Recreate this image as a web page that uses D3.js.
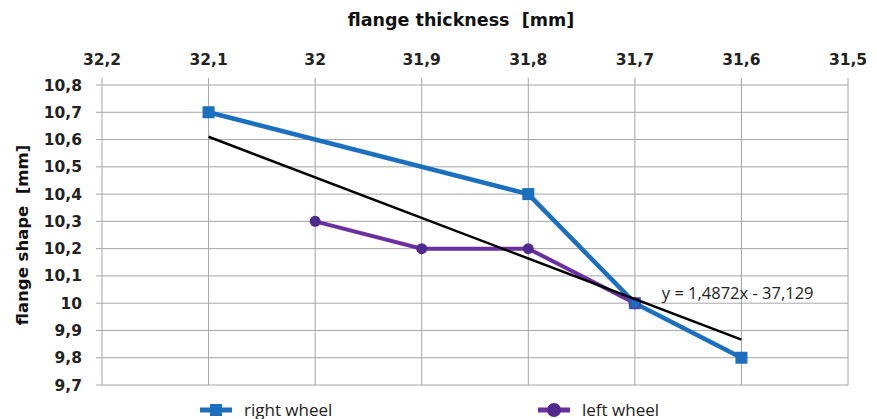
<!DOCTYPE html>
<html>
<head>
<meta charset="utf-8">
<script src="https://cdn.jsdelivr.net/npm/d3@7"></script>
<style>
  body { margin: 0; background: #fff; }
  svg { display: block; }
</style>
</head>
<body>
<div id="chart"></div>
<script>
// data
const xTicks = [32.2, 32.1, 32, 31.9, 31.8, 31.7, 31.6, 31.5];
const yTicks = [9.7, 9.8, 9.9, 10, 10.1, 10.2, 10.3, 10.4, 10.5, 10.6, 10.7, 10.8];
const rightX = [32.1, 31.8, 31.7, 31.6];
const rightY = [10.7, 10.4, 10.0, 9.8];
const leftX = [32, 31.9, 31.8, 31.7];
const leftY = [10.3, 10.2, 10.2, 10.0];
const trendSlope = 1.4872;
const trendIntercept = -37.129;
const trendX = [32.1, 31.6];

const W = 877, H = 419;
const margin = { top: 85, right: 29, bottom: 34, left: 102 };
const width = W - margin.left - margin.right,
      height = H - margin.top - margin.bottom;

const svg = d3.select("#chart").append("svg")
    .attr("width", W)
    .attr("height", H);

const g = svg.append("g")
    .attr("transform", `translate(${margin.left},${margin.top})`);

const x = d3.scaleLinear().domain([32.2, 31.5]).range([0, width]);
const y = d3.scaleLinear().domain([9.7, 10.8]).range([height, 0]);
const fmt = d => String(+d.toFixed(1)).replace(".", ",");
const boldFont = "DejaVu Sans, sans-serif";

// grid: horizontal lines reach a bit left, vertical lines poke above the top
g.append("g")
    .selectAll("line")
    .data(yTicks)
    .enter().append("line")
    .attr("x1", -6).attr("x2", width)
    .attr("y1", d => y(d)).attr("y2", d => y(d))
    .attr("stroke", "#a6a6a6").attr("stroke-width", 1);

g.append("g")
    .selectAll("line")
    .data(xTicks)
    .enter().append("line")
    .attr("x1", d => x(d)).attr("x2", d => x(d))
    .attr("y1", -7).attr("y2", height)
    .attr("stroke", "#a6a6a6").attr("stroke-width", 1);

// tick labels
g.append("g")
    .selectAll("text")
    .data(xTicks)
    .enter().append("text")
    .attr("x", d => x(d))
    .attr("y", -20)
    .attr("text-anchor", "middle")
    .attr("font-family", boldFont)
    .attr("font-weight", "bold")
    .attr("font-size", 15.5)
    .attr("fill", "#222")
    .text(fmt);

g.append("g")
    .selectAll("text")
    .data(yTicks)
    .enter().append("text")
    .attr("x", -20)
    .attr("y", d => y(d))
    .attr("dy", "0.36em")
    .attr("text-anchor", "end")
    .attr("font-family", boldFont)
    .attr("font-weight", "bold")
    .attr("font-size", 15.5)
    .attr("fill", "#222")
    .text(fmt);

// axis titles
svg.append("text")
    .attr("x", 461).attr("y", 26)
    .attr("text-anchor", "middle")
    .attr("font-family", boldFont)
    .attr("font-weight", "bold")
    .attr("font-size", 17.5)
    .attr("fill", "#111")
    .attr("xml:space", "preserve")
    .text("flange thickness  [mm]");

svg.append("text")
    .attr("transform", "translate(28,235) rotate(-90)")
    .attr("text-anchor", "middle")
    .attr("font-family", boldFont)
    .attr("font-weight", "bold")
    .attr("font-size", 16.5)
    .attr("fill", "#111")
    .attr("xml:space", "preserve")
    .text("flange shape  [mm]");

const blue = "#1b6fbe", purple = "#6a2fa0", purpleDark = "#4f2a8c";
const line = d3.line().x(d => x(d[0])).y(d => y(d[1]));

const leftPts = leftX.map((v, i) => [v, leftY[i]]);
const rightPts = rightX.map((v, i) => [v, rightY[i]]);

// left wheel
g.append("path")
    .datum(leftPts)
    .attr("d", line)
    .attr("fill", "none")
    .attr("stroke", purple)
    .attr("stroke-width", 4);

// right wheel
g.append("path")
    .datum(rightPts)
    .attr("d", line)
    .attr("fill", "none")
    .attr("stroke", blue)
    .attr("stroke-width", 4.5);

g.selectAll(".sq")
    .data(rightPts)
    .enter().append("rect")
    .attr("class", "sq")
    .attr("x", d => x(d[0]) - 6)
    .attr("y", d => y(d[1]) - 6)
    .attr("width", 12).attr("height", 12)
    .attr("fill", blue);

g.selectAll(".dot")
    .data(leftPts)
    .enter().append("circle")
    .attr("class", "dot")
    .attr("cx", d => x(d[0]))
    .attr("cy", d => y(d[1]))
    .attr("r", 5.5)
    .attr("fill", (d, i) => i === leftPts.length - 1 ? "none" : purpleDark)
    .attr("stroke", purple)
    .attr("stroke-width", (d, i) => i === leftPts.length - 1 ? 1.5 : 0);

// linear trend line
g.append("path")
    .datum(trendX.map(v => [v, trendSlope * v + trendIntercept]))
    .attr("d", line)
    .attr("stroke", "#000")
    .attr("stroke-width", 2.5)
    .attr("fill", "none");

g.append("text")
    .attr("x", x(31.7) + 27)
    .attr("y", y(10.035))
    .attr("dy", "0.35em")
    .attr("font-family", "Open Sans, sans-serif")
    .attr("font-size", 16.5)
    .attr("fill", "#222")
    .text("y = " + String(trendSlope).replace(".", ",") + "x - " + String(-trendIntercept).replace(".", ","));

// legend
const legend = [
    { name: "right wheel", color: blue, shape: "square", x: 200 },
    { name: "left wheel", color: purple, shape: "circle", x: 538 }
];
const lg = svg.append("g").selectAll("g")
    .data(legend)
    .enter().append("g")
    .attr("transform", d => `translate(${d.x},410)`);

lg.append("line")
    .attr("x1", 0).attr("x2", 32)
    .attr("stroke", d => d.color)
    .attr("stroke-width", 5);

lg.filter(d => d.shape === "square").append("rect")
    .attr("x", 10).attr("y", -6).attr("width", 12).attr("height", 12)
    .attr("fill", blue);

lg.filter(d => d.shape === "circle").append("circle")
    .attr("cx", 16).attr("r", 7)
    .attr("fill", purpleDark);

lg.append("text")
    .attr("x", 44)
    .attr("dy", "0.35em")
    .attr("font-family", "Open Sans, sans-serif")
    .attr("font-size", 17)
    .attr("fill", "#222")
    .text(d => d.name);
</script>
</body>
</html>
